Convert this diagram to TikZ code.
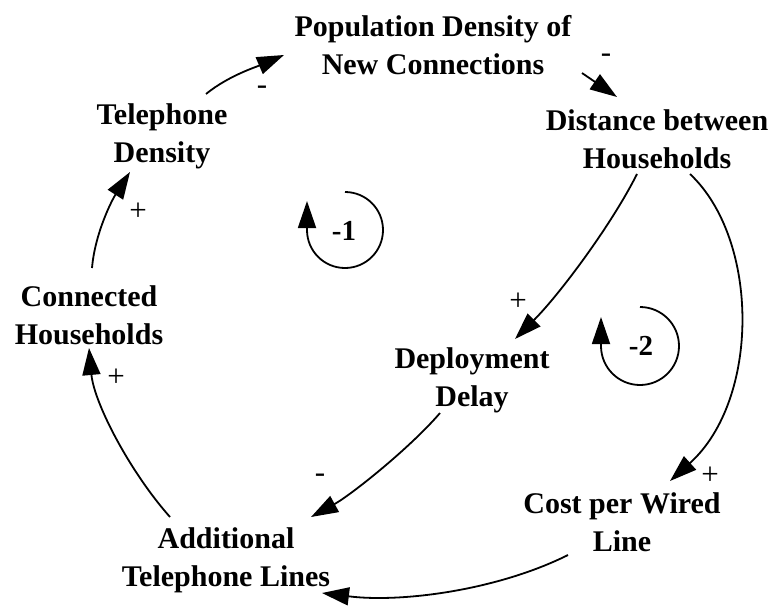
\documentclass[tikz,border=0pt]{standalone}
\usepackage{fontspec}
\setmainfont{Liberation Serif}[BoldFont={Liberation Serif Bold}]
\newfontfamily\boldserif{Liberation Serif Bold}
\usetikzlibrary{arrows.meta}
\tikzset{
  var/.style={font=\boldserif\fontsize{30}{38}\selectfont, align=center, inner sep=0pt},
  sgn/.style={font=\rmfamily\fontsize{31}{32}\selectfont, inner sep=0pt},
  loopname/.style={font=\boldserif\fontsize{29}{30}\selectfont, inner sep=0pt},
  link/.style={line width=1.8pt, -{Triangle[length=27pt,width=18pt]}},
}
\begin{document}
\begin{tikzpicture}[x=1pt, y=-1pt]
\useasboundingbox (0,0) rectangle (779,605);

% variables
\node[var] (pop)  at (433,45)  {Population Density of\\New Connections};
\node[var] (tel)  at (162,136) {Telephone\\Density};
\node[var] (dist) at (657,139) {Distance between\\Households};
\node[var] (conn) at (89,315)  {Connected\\Households};
\node[var] (dep)  at (472,380) {Deployment\\Delay};
\node[var] (cost) at (622,522) {Cost per Wired\\Line};
\node[var] (add)  at (226,560) {Additional\\Telephone Lines};

% causal links
\draw[link] ([shift={(44,-42)}]tel.center) .. controls +(22,-18) and +(-28,12) .. ([shift={(-149,10)}]pop.center);
\draw[link] ([shift={(149,28)}]pop.center) -- ([shift={(-40,-42)}]dist.center);
\draw[link] ([shift={(-20,35)}]dist.center) .. controls +(-25,50) and +(45,-45) .. ([shift={(43,-41)}]dep.center);
\draw[link] ([shift={(33,35)}]dist.center) .. controls +(70,66) and +(90,-81) .. ([shift={(48,-41)}]cost.center);
\draw[link] ([shift={(-54,33)}]cost.center) .. controls +(-70,35) and +(80,10) .. ([shift={(96,33)}]add.center);
\draw[link] ([shift={(-32,33)}]dep.center) .. controls +(-30,35) and +(40,-22) .. ([shift={(85,-43)}]add.center);
\draw[link] ([shift={(-56,-43)}]add.center) .. controls +(-40,-45) and +(5,55) .. ([shift={(0,33)}]conn.center);
\draw[link] ([shift={(3,-47)}]conn.center) .. controls +(3,-35) and +(-18,28) .. ([shift={(-32,36)}]tel.center);

% polarities
\node[sgn] (s1) at (262,90)  {-};
\node[sgn] (s2) at (606,58)  {-};
\node[sgn] (s3) at (518,302) {+};
\node[sgn] (s4) at (710,476) {+};
\node[sgn] (s5) at (320,478) {-};
\node[sgn] (s6) at (116,378) {+};
\node[sgn] (s7) at (138,212) {+};

% loop identifiers
\node[loopname] (l1) at (344,231) {-1};
\node[loopname] (l2) at (641,346) {-2};
\draw[link] ([shift={(1,-39)}]l1.center) arc[start angle=-90, end angle=180, radius=38] -- ++(0,-29);
\draw[link] ([shift={(-1,-39)}]l2.center) arc[start angle=-90, end angle=180, radius=39] -- ++(0,-29);
\end{tikzpicture}
\end{document}
